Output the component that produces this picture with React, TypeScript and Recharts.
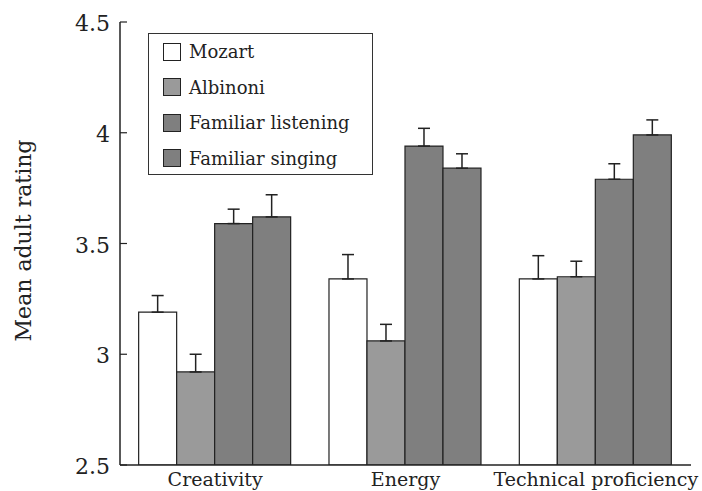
import { BarChart, Bar, XAxis, YAxis, ErrorBar, Legend, Label } from 'recharts';

const categories = ['Creativity', 'Energy', 'Technical proficiency'];

const mozart = [3.19, 3.34, 3.34];
const mozartErr = [0.075, 0.11, 0.105];
const albinoni = [2.92, 3.06, 3.35];
const albinoniErr = [0.08, 0.075, 0.07];
const listening = [3.59, 3.94, 3.79];
const listeningErr = [0.065, 0.08, 0.07];
const singing = [3.62, 3.84, 3.99];
const singingErr = [0.1, 0.065, 0.068];

const yTicks = [2.5, 3, 3.5, 4, 4.5];

const FONT = '"DejaVu Serif", "Liberation Serif", serif';
const INK = '#222';

const series = [
  { key: 'mozart', name: 'Mozart', fill: '#ffffff' },
  { key: 'albinoni', name: 'Albinoni', fill: '#9a9a9a' },
  { key: 'listening', name: 'Familiar listening', fill: '#7f7f7f' },
  { key: 'singing', name: 'Familiar singing', fill: '#7f7f7f' },
];

// error bars only go up, so the lower bound is 0
const data = categories.map((category, i) => ({
  category,
  mozart: mozart[i],
  mozartErr: [0, mozartErr[i]],
  albinoni: albinoni[i],
  albinoniErr: [0, albinoniErr[i]],
  listening: listening[i],
  listeningErr: [0, listeningErr[i]],
  singing: singing[i],
  singingErr: [0, singingErr[i]],
}));

// label on the left, short tick pointing into the plot
const YTick = ({ x, y, payload }: any) => (
  <g>
    <line x1={x + 10} x2={x + 17} y1={y} y2={y} stroke={INK} strokeWidth={1.2} />
    <text x={x} y={y} dy={9} textAnchor="end" fontFamily={FONT} fontSize={22} fill={INK}>
      {payload.value}
    </text>
  </g>
);

const YTitle = ({ viewBox }: any) => {
  const cy = viewBox.y + viewBox.height / 2 - 3;
  return (
    <text
      x={31}
      y={cy}
      transform={`rotate(-90, 31, ${cy})`}
      textAnchor="middle"
      fontFamily={FONT}
      fontSize={22}
      fill={INK}
    >
      Mean adult rating
    </text>
  );
};

const renderLegend = () => (
  <div
    style={{
      width: 225,
      height: 142,
      boxSizing: 'border-box',
      border: '1.5px solid #333',
      background: '#fff',
      paddingLeft: 14,
      fontFamily: FONT,
    }}
  >
    {series.map((s) => (
      <div key={s.key} style={{ display: 'flex', alignItems: 'center', height: 35.5 }}>
        <span
          style={{
            display: 'inline-block',
            width: 18,
            height: 18,
            boxSizing: 'border-box',
            border: '1.5px solid #222',
            background: s.fill,
            marginRight: 8,
          }}
        />
        <span style={{ fontSize: 18, color: INK }}>{s.name}</span>
      </div>
    ))}
  </div>
);

export default function App() {
  return (
    <div style={{ position: 'absolute', left: 0, top: 0, background: '#fff' }}>
      <BarChart
        width={702}
        height={491}
        data={data}
        margin={{ top: 22, right: 11, bottom: 0, left: 0 }}
        barCategoryGap="9.8%"
        barGap={0}
      >
        <XAxis
          dataKey="category"
          height={26}
          axisLine={{ stroke: INK, strokeWidth: 1.5 }}
          tickLine={false}
          tickSize={0}
          tickMargin={8}
          tick={{ fontFamily: FONT, fontSize: 19, fill: INK }}
        />
        <XAxis
          xAxisId="top"
          dataKey="category"
          orientation="top"
          height={0}
          tick={false}
          tickLine={false}
          axisLine={{ stroke: '#333', strokeWidth: 1.3 }}
        />
        <YAxis
          width={120}
          domain={[2.5, 4.5]}
          ticks={yTicks}
          allowDataOverflow
          tickLine={false}
          tickSize={0}
          tickMargin={10}
          tick={<YTick />}
          axisLine={{ stroke: INK, strokeWidth: 1.5 }}
        >
          <Label content={<YTitle />} />
        </YAxis>
        <YAxis
          yAxisId="right"
          orientation="right"
          width={0}
          domain={[2.5, 4.5]}
          tick={false}
          tickLine={false}
          axisLine={{ stroke: '#444', strokeWidth: 1.5 }}
        />
        <Legend
          layout="vertical"
          align="center"
          verticalAlign="middle"
          content={renderLegend}
          wrapperStyle={{ top: 33, left: 148, width: 225 }}
        />
        {series.map((s) => (
          <Bar
            key={s.key}
            dataKey={s.key}
            name={s.name}
            fill={s.fill}
            stroke={INK}
            strokeWidth={1.2}
            isAnimationActive={false}
          >
            <ErrorBar dataKey={`${s.key}Err`} width={6} stroke={INK} strokeWidth={1.5} direction="y" />
          </Bar>
        ))}
      </BarChart>
    </div>
  );
}
